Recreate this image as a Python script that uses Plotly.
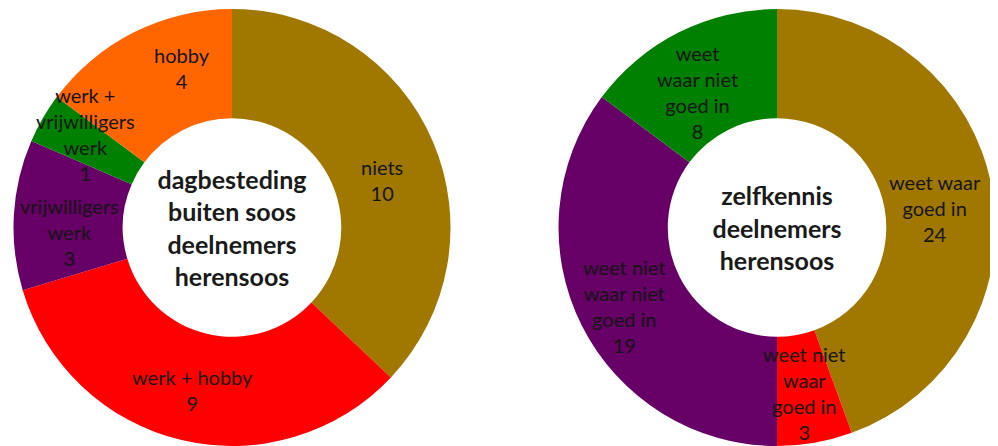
import math
import plotly.graph_objects as go

# Left donut: dagbesteding buiten soos
left_labels = ["niets", "werk + hobby", "vrijwilligers<br>werk", "werk +<br>vrijwilligers<br>werk", "hobby"]
left_values = [10, 9, 3, 1, 4]
left_colors = ["#A07800", "#FF0000", "#660066", "#008000", "#FF6600"]

# Right donut: zelfkennis
right_labels = ["weet waar<br>goed in", "weet niet<br>waar<br>goed in", "weet niet<br>waar niet<br>goed in", "weet<br>waar niet<br>goed in"]
right_values = [24, 3, 19, 8]
right_colors = ["#A07800", "#FF0000", "#660066", "#008000"]

left_title = "dagbesteding<br>buiten soos<br>deelnemers<br>herensoos"
right_title = "zelfkennis<br>deelnemers<br>herensoos"

# ---- layout / style ----
FONT = "Lato"
W, H = 990, 438
LEFT_DOM = dict(x=[0.00505, 0.44747], y=[0.0, 0.9977])
RIGHT_DOM = dict(x=[0.5556, 0.99798], y=[0.0, 0.9977])
# label placement per slice: (distance as fraction of outer radius, angle nudge in degrees)
LEFT_LABEL_POS = [(0.72, 5.7), (0.765, 0.2), (0.742, -4.9), (0.794, 2.6), (0.767, 9.3)]
RIGHT_LABEL_POS = [(0.728, 3.0), (0.766, 0.4), (0.783, -0.6), (0.717, -3.8)]

fig = go.Figure()
common = dict(
    hole=0.5, sort=False, direction="clockwise", rotation=0,
    textinfo="none", marker=dict(line=dict(width=0)),
    showlegend=False, hoverinfo="label+value",
)
for labels, values, colors, dom, title, lpos in [
    (left_labels, left_values, left_colors, LEFT_DOM, left_title, LEFT_LABEL_POS),
    (right_labels, right_values, right_colors, RIGHT_DOM, right_title, RIGHT_LABEL_POS),
]:
    fig.add_trace(go.Pie(
        labels=labels, values=values, marker_colors=colors, domain=dom,
        title=dict(text=title, position="middle center",
                   font=dict(family=FONT, size=25, color="#1a1a1a", weight="bold")),
        **common))
    # slice labels placed around the middle angle of each slice (derived from the values)
    cx = (dom["x"][0] + dom["x"][1]) / 2 * W
    cy = (1 - (dom["y"][0] + dom["y"][1]) / 2) * H
    R = min((dom["x"][1] - dom["x"][0]) * W, (dom["y"][1] - dom["y"][0]) * H) / 2
    total = sum(values)
    cum = 0
    for lab, v, (rf, nudge) in zip(labels, values, lpos):
        mid = (cum + v / 2) / total * 2 * math.pi + math.radians(nudge)
        cum += v
        px = cx + rf * R * math.sin(mid)
        py = cy - rf * R * math.cos(mid)
        fig.add_annotation(
            x=px / W, y=1 - py / H, xref="paper", yref="paper",
            text=f"{lab}<br>{v}", showarrow=False,
            xanchor="center", yanchor="middle",
            font=dict(family=FONT, size=20, color="#151515"),
        )

fig.update_layout(
    width=W, height=H,
    margin=dict(l=0, r=0, t=0, b=0),
    paper_bgcolor="white", plot_bgcolor="white",
)
fig.write_html("out.html")
